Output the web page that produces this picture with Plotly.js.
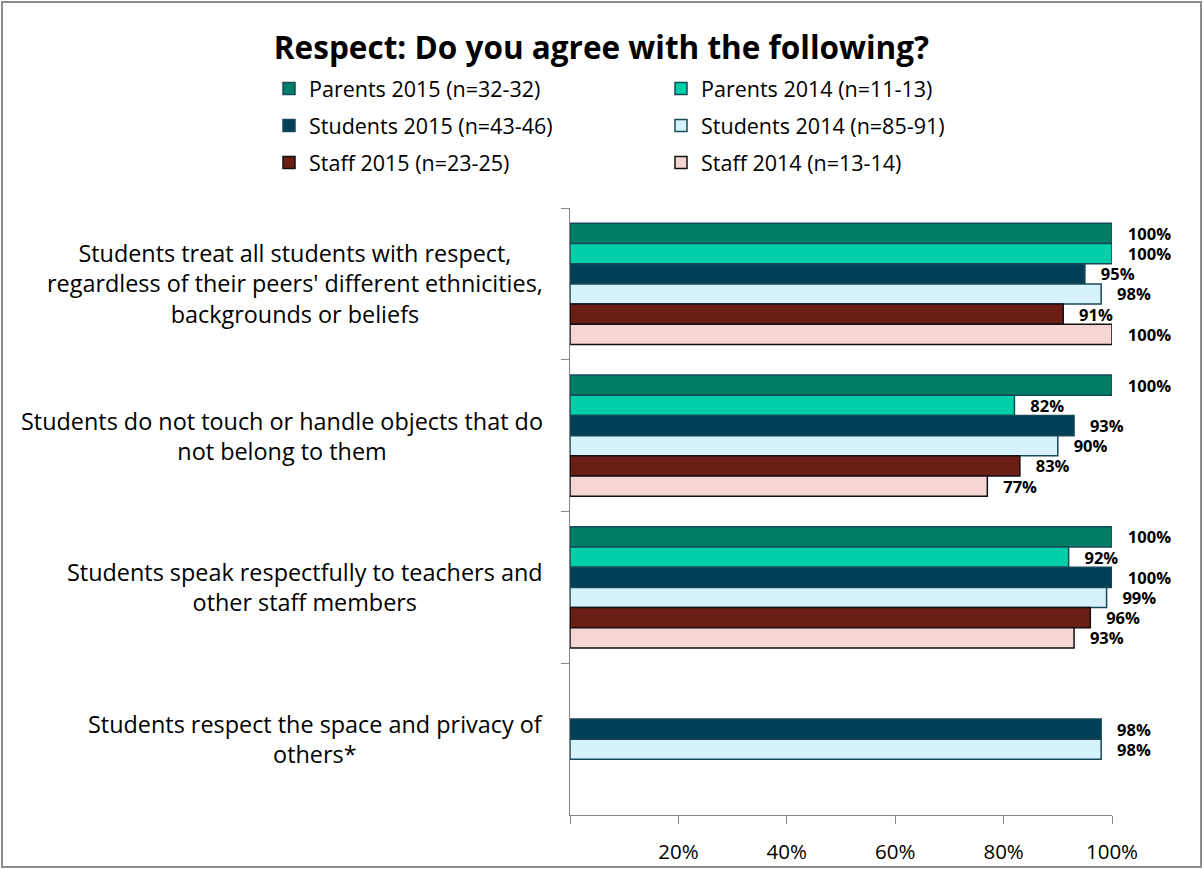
<!DOCTYPE html>
<html>
<head>
<meta charset="utf-8">
<script src="https://cdn.plot.ly/plotly-3.0.1.min.js"></script>
<style>
html,body{margin:0;padding:0;background:#fff;}
#chart{width:1203px;height:869px;}
</style>
</head>
<body>
<div id="chart"></div>
<script>
const categories = [
  "Students treat all students with respect,<br>regardless of their peers' different ethnicities,<br>backgrounds or beliefs",
  "Students do not touch or handle objects that do<br>not belong to them",
  "Students speak respectfully to teachers and<br>other staff members",
  "Students respect the space and privacy of<br>others*"
];
const seriesNames = [
  "Parents 2015 (n=32-32)",
  "Parents 2014 (n=11-13)",
  "Students 2015 (n=43-46)",
  "Students 2014 (n=85-91)",
  "Staff 2015 (n=23-25)",
  "Staff 2014 (n=13-14)"
];
const parents2015  = [100, 100, 100, null];
const parents2014  = [100, 82, 92, null];
const students2015 = [95, 93, 100, 98];
const students2014 = [98, 90, 99, 98];
const staff2015    = [91, 83, 96, null];
const staff2014    = [100, 77, 93, null];
const xTickVals  = [0, 20, 40, 60, 80, 100];
const xTickText  = ["", "20%", "40%", "60%", "80%", "100%"];

const seriesValues = [parents2015, parents2014, students2015, students2014, staff2015, staff2014];
const fillColors = ["#007F66", "#00CFA8", "#003F58", "#D6F2FC", "#6A1E16", "#F5D6D3"];
const lineColors = ["#17495A", "#17495A", "#17495A", "#17495A", "#111111", "#111111"];
const legendIds  = ["legend", "legend2", "legend", "legend2", "legend", "legend2"];

const FONT = "'Open Sans', sans-serif";

const traces = seriesNames.map((name, i) => ({
  type: "bar",
  orientation: "h",
  name: name,
  y: categories,
  x: seriesValues[i],
  text: seriesValues[i].map(v => v == null ? "" : "\u00a0\u00a0\u00a0" + v + "%"),
  textposition: "outside",
  cliponaxis: false,
  constraintext: "inside",
  textfont: {family: FONT, size: 16.5, color: "#000", weight: "bold"},
  outsidetextfont: {family: FONT, size: 16.5, color: "#000", weight: "bold"},
  marker: {color: fillColors[i], line: {color: lineColors[i], width: 1.5}},
  legend: legendIds[i],
  legendgroup: name,
  hoverinfo: "x+name"
}));

const annotations = categories.map(c => ({
  xref: "paper", yref: "y",
  x: -0.046, y: c,
  xanchor: "right", yanchor: "middle",
  align: "center",
  showarrow: false,
  text: c,
  font: {family: FONT, size: 23.4, color: "#000"}
}));

const legendCommon = {
  xref: "container", yref: "container",
  xanchor: "left", yanchor: "top",
  orientation: "v",
  tracegroupgap: 6,
  traceorder: "grouped",
  bgcolor: "rgba(0,0,0,0)",
  font: {family: FONT, size: 21.5, color: "#000"}
};

const layout = {
  width: 1203, height: 869,
  margin: {l: 570, r: 91, t: 208, b: 54, autoexpand: false},
  paper_bgcolor: "#fff",
  plot_bgcolor: "#fff",
  font: {family: FONT, color: "#000"},
  title: {
    text: "<b>Respect: Do you agree with the following?</b>",
    font: {family: FONT, size: 31.5, color: "#000"},
    x: 0.5, xref: "container", xanchor: "center",
    y: 1 - 48/869, yref: "container", yanchor: "middle"
  },
  barmode: "group",
  bargap: 0.2,
  bargroupgap: 0,
  showlegend: true,
  legend: Object.assign({x: 269/1203, y: 1 - 68/869}, legendCommon),
  legend2: Object.assign({x: 661/1203, y: 1 - 68/869}, legendCommon),
  xaxis: {
    range: [0, 100],
    tickvals: xTickVals,
    ticktext: xTickText,
    ticks: "outside", ticklen: 8, tickcolor: "#868686", tickwidth: 1,
    ticklabelstandoff: 10,
    showline: true, linecolor: "#868686", linewidth: 1,
    showgrid: false, zeroline: false,
    tickfont: {family: FONT, size: 20.5, color: "#000"}
  },
  yaxis: {
    type: "category",
    range: [3.5, -0.5],
    tickson: "boundaries",
    ticks: "outside", ticklen: 8, tickcolor: "#868686", tickwidth: 1,
    showticklabels: false,
    showline: true, linecolor: "#868686", linewidth: 1,
    showgrid: false, zeroline: false
  },
  annotations: annotations,
  shapes: [{
    type: "rect", xref: "paper", yref: "paper",
    x0: (2-570)/542, x1: (1201-570)/542,
    y0: (815-867)/607, y1: (815-2)/607,
    line: {color: "#8C8C8C", width: 2},
    fillcolor: "rgba(0,0,0,0)",
    layer: "below"
  }]
};

Plotly.newPlot("chart", traces, layout, {displayModeBar: false, staticPlot: true});
</script>
</body>
</html>
